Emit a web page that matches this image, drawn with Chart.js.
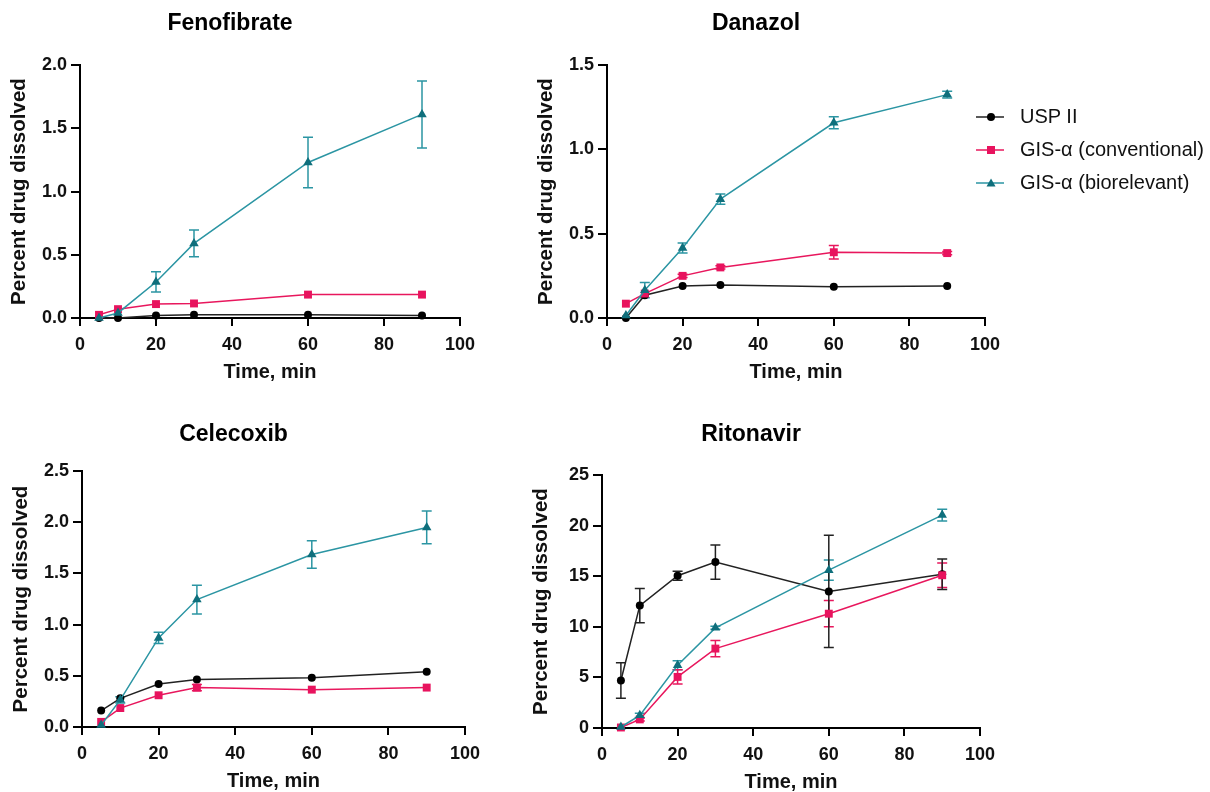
<!doctype html>
<html lang="en">
<head>
<meta charset="utf-8">
<title>Percent drug dissolved - GIS-α</title>
<script src="https://cdn.jsdelivr.net/npm/chart.js"></script>
<style>
  html, body { margin:0; padding:0; background:#fff; overflow:hidden; }
  body { width:1210px; height:792px; position:relative; font-family:'Liberation Sans', Arial, sans-serif; }
  canvas { position:absolute; }
  #legend { position:absolute; left:974px; top:100px; }
  .row { height:33px; display:flex; align-items:center; font-size:20px; color:#111; white-space:nowrap; }
  .row svg { width:32px; height:20px; margin-right:14px; }
</style>
</head>
<body>
<canvas id="c-feno" width="540" height="384"></canvas>
<canvas id="c-dana" width="540" height="384"></canvas>
<canvas id="c-cele" width="542" height="383"></canvas>
<canvas id="c-rito" width="539" height="384"></canvas>

<div id="legend">
  <div class="row"><svg viewBox="0 0 32 20"><line x1="2" y1="10" x2="30" y2="10" stroke="#222" stroke-width="1.5"/><circle cx="17" cy="10" r="4" fill="#000"/></svg>USP II</div>
  <div class="row"><svg viewBox="0 0 32 20"><line x1="2" y1="10" x2="30" y2="10" stroke="#e8175d" stroke-width="1.5"/><rect x="13" y="6" width="8" height="8" fill="#e8135e"/></svg>GIS-α (conventional)</div>
  <div class="row"><svg viewBox="0 0 32 20"><line x1="2" y1="10" x2="30" y2="10" stroke="#2b95a3" stroke-width="1.5"/><polygon points="17,5.5 21.5,13.5 12.5,13.5" fill="#0f6f7c"/></svg>GIS-α (biorelevant)</div>
</div>

<script>
// sampling times, min
const times = [5, 10, 20, 30, 60, 90];

// Fenofibrate
const fenoUsp      = [0.0, 0.0, 0.02, 0.025, 0.025, 0.02];
const fenoConv     = [0.025, 0.07, 0.11, 0.115, 0.185, 0.185];
const fenoBio      = [0.0, 0.04, 0.285, 0.59, 1.23, 1.61];
const fenoBioErr   = [0, 0, 0.08, 0.105, 0.2, 0.265];

// Danazol
const danaUsp      = [0.0, 0.135, 0.19, 0.195, 0.185, 0.19];
const danaConv     = [0.085, 0.145, 0.25, 0.30, 0.39, 0.385];
const danaConvErr  = [0, 0, 0.01, 0.01, 0.04, 0.01];
const danaBio      = [0.015, 0.165, 0.415, 0.705, 1.158, 1.325];
const danaBioErr   = [0, 0.045, 0.03, 0.03, 0.035, 0.02];

// Celecoxib
const celeUsp      = [0.16, 0.28, 0.42, 0.465, 0.48, 0.54];
const celeConv     = [0.05, 0.185, 0.31, 0.385, 0.365, 0.385];
const celeConvErr  = [0, 0, 0, 0.03, 0, 0];
const celeBio      = [0.02, 0.265, 0.87, 1.245, 1.685, 1.95];
const celeBioErr   = [0, 0.03, 0.055, 0.14, 0.135, 0.16];

// Ritonavir
const ritoUsp      = [4.7, 12.1, 15.05, 16.4, 13.5, 15.2];
const ritoUspErr   = [1.75, 1.7, 0.45, 1.7, 5.55, 1.5];
const ritoConv     = [0.05, 0.85, 5.05, 7.85, 11.3, 15.1];
const ritoConvErr  = [0, 0.15, 0.7, 0.8, 1.3, 1.2];
const ritoBio      = [0.1, 1.25, 6.2, 9.9, 15.6, 21.05];
const ritoBioErr   = [0, 0.2, 0.45, 0.15, 1.0, 0.58];

const FONT = "'Liberation Sans', Arial, sans-serif";
Chart.defaults.font.family = FONT;
Chart.defaults.color = '#000';
Chart.defaults.animation = false;

// error bars drawn below the markers
const errorBars = {
  id: 'errorBars',
  beforeDatasetsDraw(chart) {
    const ctx = chart.ctx, xs = chart.scales.x, ys = chart.scales.y;
    chart.data.datasets.forEach(ds => {
      if (!ds.errors) return;
      ctx.save();
      ctx.strokeStyle = ds.borderColor;
      ctx.lineWidth = 1.5;
      ds.data.forEach((p, i) => {
        const e = ds.errors[i];
        if (!e) return;
        const px = xs.getPixelForValue(p.x);
        const t = ys.getPixelForValue(p.y + e);
        const b = ys.getPixelForValue(Math.max(p.y - e, 0));
        ctx.beginPath();
        ctx.moveTo(px, t); ctx.lineTo(px, b);
        ctx.moveTo(px - 5, t); ctx.lineTo(px + 5, t);
        ctx.moveTo(px - 5, b); ctx.lineTo(px + 5, b);
        ctx.stroke();
      });
      ctx.restore();
    });
  }
};

function pts(arr) { return arr.map((v, i) => ({x: times[i], y: v})); }

function series(usp, conv, bio, uspErr, convErr, bioErr) {
  return [
    { label: 'GIS-α (biorelevant)', data: pts(bio), errors: bioErr,
      borderColor: '#2b95a3', backgroundColor: '#0f6f7c', pointStyle: 'triangle', pointRadius: 5.5 },
    { label: 'GIS-α (conventional)', data: pts(conv), errors: convErr,
      borderColor: '#e8175d', backgroundColor: '#e8135e', pointStyle: 'rect', pointRadius: 5.6 },
    { label: 'USP II', data: pts(usp), errors: uspErr,
      borderColor: '#222222', backgroundColor: '#000000', pointStyle: 'circle', pointRadius: 4 }
  ].map(d => Object.assign(d, { borderWidth: 1.5, pointBorderWidth: 0, tension: 0, clip: false }));
}

function makeChart(id, pos, title, yMax, yStep, dec, datasets) {
  const cv = document.getElementById(id);
  cv.style.left = pos.left + 'px';
  cv.style.top = pos.top + 'px';
  return new Chart(cv, {
    type: 'line',
    data: { datasets: datasets },
    plugins: [errorBars],
    options: {
      responsive: false,
      devicePixelRatio: 1,
      layout: { padding: { left: 0, right: pos.padRight, top: 0, bottom: 0 } },
      plugins: {
        legend: { display: false },
        tooltip: { enabled: false },
        title: {
          display: true, text: title, color: '#000',
          font: { size: 23, weight: 'bold' },
          padding: { top: pos.tTop, bottom: pos.tBottom }
        }
      },
      scales: {
        x: {
          type: 'linear', min: 0, max: 100,
          afterFit: s => { s.height = 66; },
          ticks: { stepSize: 20, padding: 8, color: '#111', font: { size: 18, weight: 'bold' } },
          grid: { drawOnChartArea: false, color: '#000', lineWidth: 2, tickLength: 8 },
          border: { color: '#000', width: 2 },
          title: { display: true, text: 'Time, min', color: '#111',
                   font: { size: 20, weight: 'bold' }, padding: { top: 0, bottom: 0 } }
        },
        y: {
          min: 0, max: yMax,
          afterFit: s => { s.width = 80; },
          ticks: { stepSize: yStep, padding: 4, color: '#111', font: { size: 18, weight: 'bold' },
                   callback: v => Number(v).toFixed(dec) },
          grid: { drawOnChartArea: false, color: '#000', lineWidth: 2, tickLength: 9 },
          border: { color: '#000', width: 2 },
          title: { display: true, text: 'Percent drug dissolved', color: '#111',
                   font: { size: 20.5, weight: 'bold' }, padding: { top: 7, bottom: 0 } }
        }
      }
    }
  });
}

makeChart('c-feno', {left: 0,   top: 0,   padRight: 80, tTop: 9.5, tBottom: 28}, 'Fenofibrate', 2.0, 0.5, 1,
  series(fenoUsp, fenoConv, fenoBio, null, null, fenoBioErr));
makeChart('c-dana', {left: 527, top: 0,   padRight: 82, tTop: 9.5, tBottom: 28}, 'Danazol', 1.5, 0.5, 1,
  series(danaUsp, danaConv, danaBio, null, danaConvErr, danaBioErr));
makeChart('c-cele', {left: 2,   top: 410, padRight: 79, tTop: 11.3, tBottom: 22.2}, 'Celecoxib', 2.5, 0.5, 1,
  series(celeUsp, celeConv, celeBio, null, celeConvErr, celeBioErr));
makeChart('c-rito', {left: 522, top: 410, padRight: 81, tTop: 11.3, tBottom: 26.2}, 'Ritonavir', 25, 5, 0,
  series(ritoUsp, ritoConv, ritoBio, ritoUspErr, ritoConvErr, ritoBioErr));
</script>
</body>
</html>
